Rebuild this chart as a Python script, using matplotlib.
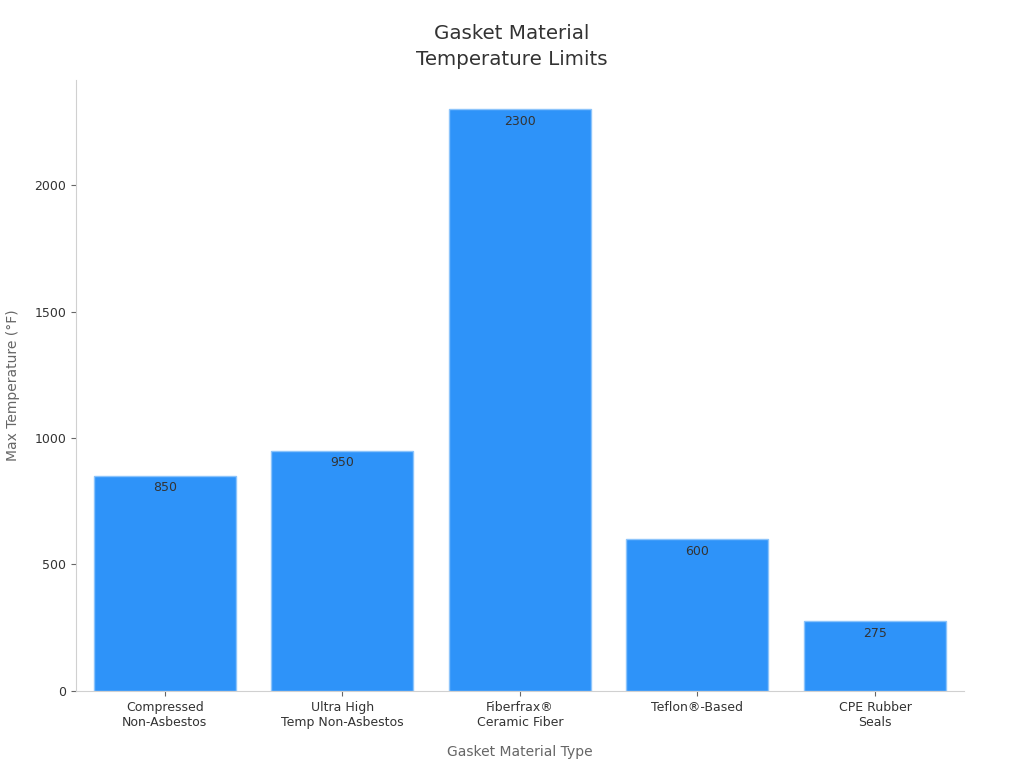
import matplotlib
matplotlib.use('Agg')
import matplotlib.pyplot as plt

# Data
materials = ['Compressed\nNon-Asbestos', 'Ultra High\nTemp Non-Asbestos',
             'Fiberfrax®\nCeramic Fiber', 'Teflon®-Based', 'CPE Rubber\nSeals']
max_temp = [850, 950, 2300, 600, 275]

fig = plt.figure(figsize=(10.24, 7.68), dpi=100)
ax = fig.add_axes([0.0742, 0.1003, 0.867, 0.7955])

x = range(len(materials))
bars = ax.bar(x, max_temp, width=0.8, color='#2E93F9', edgecolor='#8CC4FB', linewidth=1)

# value labels just inside the top of each bar
for b, v in zip(bars, max_temp):
    ax.annotate(str(v), (b.get_x() + b.get_width() / 2, v), xytext=(0, -4),
                textcoords='offset points', ha='center', va='top',
                fontsize=9, color='#333333')

ax.set_xlim(-0.5, 4.5)
ax.set_ylim(0, 2415)
ax.set_yticks([0, 500, 1000, 1500, 2000])
ax.set_xticks(list(x))
ax.set_xticklabels(materials)
ax.tick_params(axis='both', labelsize=9, colors='#333333')
ax.tick_params(axis='x', color='#666666')
ax.tick_params(axis='y', color='#666666')

for s in ['top', 'right']:
    ax.spines[s].set_visible(False)
for s in ['left', 'bottom']:
    ax.spines[s].set_color('#D0D0D0')

ax.set_xlabel('Gasket Material Type', fontsize=10, color='#666666', labelpad=12)
ax.set_ylabel('Max Temperature (°F)', fontsize=10, color='#666666', labelpad=10)
fig.text(0.5, 0.91, 'Gasket Material\nTemperature Limits', fontsize=14.3,
         color='#333333', ha='center', va='bottom', linespacing=1.45)

fig.savefig('out.png', dpi=100)
